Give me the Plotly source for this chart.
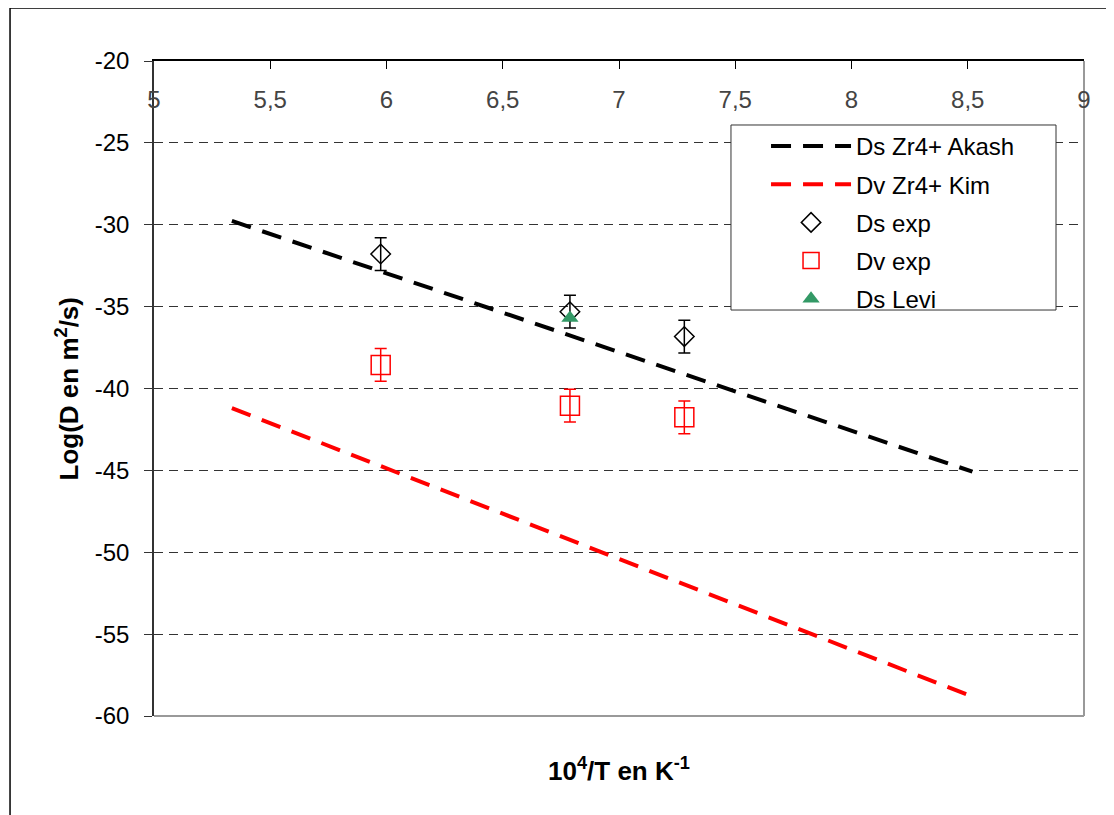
import plotly.graph_objects as go

# Arrhenius fits (line end points)
x_fit = [5.335, 8.52]
ds_akash = [-29.77, -45.08]
dv_kim = [-41.2, -58.82]

# experimental points
x_exp = [5.975, 6.789, 7.281]
ds_exp = [-31.79, -35.31, -36.83]
ds_err = [1.0, 1.0, 1.0]
dv_exp = [-38.56, -41.05, -41.76]
dv_err = [1.0, 1.0, 1.0]

x_levi = [6.789]
ds_levi = [-35.7]

x_ticks = [5, 5.5, 6, 6.5, 7, 7.5, 8, 8.5, 9]
x_tick_text = ["5", "5,5", "6", "6,5", "7", "7,5", "8", "8,5", "9"]
y_ticks = [-60, -55, -50, -45, -40, -35, -30, -25, -20]
y_tick_text = ["-60", "-55", "-50", "-45", "-40", "-35", "-30", "-25", "-20"]

FONT = "Arial, Liberation Sans, sans-serif"

fig = go.Figure()
fig.add_trace(go.Scatter(x=x_fit, y=ds_akash, mode="lines", name="Ds Zr4+ Akash",
                         legendgroup="a",
                         line=dict(color="black", width=4, dash="20px,12px")))
fig.add_trace(go.Scatter(x=x_fit, y=dv_kim, mode="lines", name="Dv Zr4+ Kim",
                         legendgroup="b",
                         line=dict(color="#ff0000", width=4, dash="20px,12px")))
fig.add_trace(go.Scatter(x=x_exp, y=ds_exp, mode="markers", name="Ds exp",
                         legendgroup="c",
                         marker=dict(symbol="diamond-open", size=15, color="black",
                                     line=dict(width=1.5, color="black")),
                         error_y=dict(type="data", array=ds_err, color="black",
                                      thickness=1.5, width=6)))
fig.add_trace(go.Scatter(x=x_exp, y=dv_exp, mode="markers", name="Dv exp",
                         legendgroup="d",
                         marker=dict(symbol="square-open", size=19, color="#ff0000",
                                     line=dict(width=1.5, color="#ff0000")),
                         error_y=dict(type="data", array=dv_err, color="#ff0000",
                                      thickness=1.5, width=6)))
fig.add_trace(go.Scatter(x=x_levi, y=ds_levi, mode="markers", name="Ds Levi",
                         legendgroup="e",
                         marker=dict(symbol="triangle-up", size=15, color="#339966")))

# the page body adds an 8px offset, margins are set so the plot area
# lands at x 154..1084, y 61..716 in the screenshot
fig.update_layout(
    width=1114, height=815,
    margin=dict(l=146, r=38, t=53, b=107),
    paper_bgcolor="white", plot_bgcolor="white",
    font=dict(family=FONT, size=24, color="black"),
    showlegend=True,
    legend=dict(x=0.6581, y=0.904, xanchor="left", yanchor="top",
                bgcolor="rgba(0,0,0,0)", borderwidth=0,
                tracegroupgap=4, itemwidth=80,
                font=dict(family=FONT, size=24, color="black")),
    xaxis=dict(range=[5, 9], side="top", tickvals=x_ticks, ticktext=x_tick_text,
               showgrid=False, zeroline=False, showline=True, linecolor="black",
               linewidth=1.5, ticks="inside", ticklen=8, tickcolor="black",
               ticklabelposition="inside", ticklabeloverflow="allow",
               ticklabelstandoff=24),
    yaxis=dict(range=[-60, -20], tickvals=y_ticks, ticktext=y_tick_text,
               showgrid=True, gridcolor="#333", griddash="9px,6px", gridwidth=1,
               zeroline=False, showline=True, linecolor="#333", linewidth=1.5,
               ticks="outside", ticklen=8, tickcolor="#333", ticklabelstandoff=10),
    annotations=[
        dict(text="<b>10<sup>4</sup>/T en K<sup>-1</sup></b>", xref="paper", yref="paper",
             x=0.5, y=-0.0824, xanchor="center", yanchor="middle", showarrow=False,
             font=dict(family=FONT, size=26)),
        dict(text="<b>Log(D en m<sup>2</sup>/s)</b>", xref="paper", yref="paper",
             x=-0.0925, y=0.5, xanchor="center", yanchor="middle", showarrow=False,
             textangle=-90, font=dict(family=FONT, size=26)),
    ],
    shapes=[
        # gray right/bottom border of plot area
        dict(type="line", xref="paper", yref="paper", x0=1, x1=1, y0=0, y1=1,
             line=dict(color="#999", width=2), layer="below"),
        dict(type="line", xref="paper", yref="paper", x0=0, x1=1, y0=0, y1=0,
             line=dict(color="#999", width=2), layer="below"),
        # legend box
        dict(type="rect", xref="paper", yref="paper", x0=0.6204, x1=0.9699,
             y0=0.6198, y1=0.9023, fillcolor="white",
             line=dict(color="#333", width=1), layer="above"),
        # outer chart frame
        dict(type="rect", xref="paper", yref="paper", x0=-0.1548, x1=1.06,
             y0=-0.2, y1=1.0809, line=dict(color="black", width=1.5), layer="below"),
    ],
)

fig.write_html("out.html")
